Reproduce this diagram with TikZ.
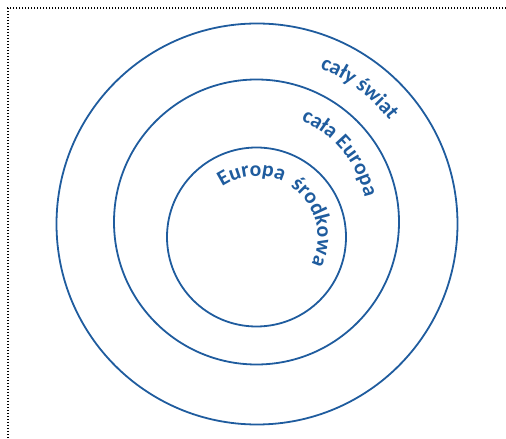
\documentclass[tikz,border=0pt]{standalone}
\usepackage{fontspec}
\setmainfont{Carlito}
\usepackage{xcolor}
\usepackage{tikz}
\usetikzlibrary{decorations.text}

\definecolor{ringblue}{HTML}{1F5C9E}
\newcommand{\ringfont}{\fontsize{21.5}{25}\selectfont\bfseries\color{ringblue}}

\begin{document}
\begin{tikzpicture}[x=1pt, y=1pt,
  ring/.style={draw=ringblue, line width=1.8pt, circle, inner sep=0pt},
  ringlabel/.style={decorate, decoration={text along path, text align=center, text={|\ringfont|#1}}},
  frameline/.style={dash pattern=on 1.2pt off 1.8pt, line width=1.2pt}]
\useasboundingbox (0,0) rectangle (506,439);

% Frame
\draw [frameline] (506,431) -- (8,431) -- (8,0);

% Rings
\node (world) at (257,215) [ring, minimum size=401pt] {};
\node (europe) at (256.5,217) [ring, minimum size=285pt] {};
\node (central) at (256.5,202) [ring, minimum size=179pt] {};

% Labels along the rings
\path [ringlabel={cały świat}] (world.center) ++(85:168pt) arc [start angle=85, end angle=21, radius=168pt];
\path [ringlabel={cała Europa}] (europe.center) ++(75:111pt) arc [start angle=75, end angle=4, radius=111pt];
\path [ringlabel={Europa {\hskip4pt}środkowa}] (central.center) ++(130:61pt) arc [start angle=130, end angle=-32, radius=61pt];
\end{tikzpicture}
\end{document}
